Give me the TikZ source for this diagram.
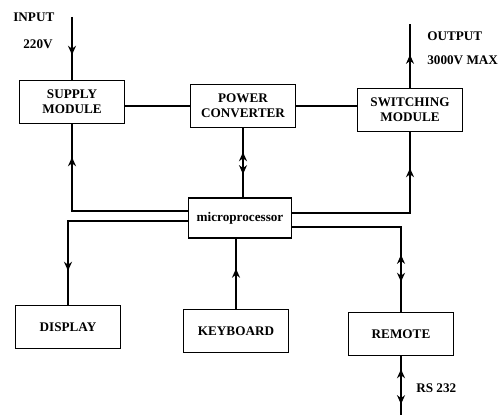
\documentclass[tikz,border=0pt]{standalone}
\usepackage{fontspec}
\setmainfont{Liberation Serif}
\usetikzlibrary{arrows.meta,decorations.markings}

\begin{document}
\begin{tikzpicture}[
                x=0.02cm, y=-0.02cm,
                >={Stealth[length=1.8mm,width=1.6mm]},
                every node/.style = {font=\fontsize{7.5}{8.5}\selectfont\bfseries},
                blockbox/.style = {rectangle, draw, line width=0.8pt, align=center, minimum width=2.1cm, minimum height=0.86cm},
                tag/.style = {anchor=west, inner sep=0pt},
                wire/.style = {line width=1.1pt},
                tipat/.style = {postaction={decorate, decoration={markings, mark=at position #1 with {\arrow{>}}}}},
                twoway/.style 2 args = {postaction={decorate, decoration={markings, mark=at position #1 with {\arrow{<}}, mark=at position #2 with {\arrow{>}}}}}
        ]
        \useasboundingbox (0,0) rectangle (500,415);

        % blocks
        \node[blockbox] (supply) at (72,102) {SUPPLY\\MODULE};
        \node[blockbox] (power) at (243,106) {POWER\\CONVERTER};
        \node[blockbox] (switching) at (410,110) {SWITCHING\\MODULE};
        \node[blockbox, minimum width=2.06cm, minimum height=0.8cm] (micro) at (240,218) {microprocessor};
        \node[blockbox] (display) at (68,327) {DISPLAY};
        \node[blockbox] (keyboard) at (236,331) {KEYBOARD};
        \node[blockbox] (remote) at (401,334) {REMOTE};

        % labels
        \node[tag] (inlabel) at (13,17) {INPUT};
        \node[tag] (involt) at (23,44) {220V};
        \node[tag] (outlabel) at (427,36) {OUTPUT};
        \node[tag] (outvolt) at (427,60) {3000V MAX};
        \node[tag] (rslabel) at (416,388) {RS 232};

        % free ends and taps
        \coordinate (infeed) at ([yshift=1.26cm]supply.north);
        \coordinate (outfeed) at ([yshift=1.28cm]switching.north);
        \coordinate (rsend) at ([yshift=-1.2cm]remote.south);
        \coordinate (mwu) at ([yshift=0.14cm]micro.west);
        \coordinate (mwd) at ([yshift=-0.06cm]micro.west);
        \coordinate (meu) at ([yshift=0.1cm]micro.east);
        \coordinate (med) at ([yshift=-0.18cm]micro.east);

        % connections
        \draw[wire, tipat=-0.5cm] (infeed) -- (supply.north);
        \draw[wire, tipat=-0.62cm] (switching.north) -- (outfeed);
        \draw[wire] (power.west -| supply.east) -- (power.west);
        \draw[wire] (power.east) -- (power.east -| switching.west);
        \draw[wire, twoway={0.66cm}{0.92cm}] (power.south) -- (power.south |- micro.north);
        \draw[wire, tipat=-0.66cm] (mwu) -| (supply.south);
        \draw[wire, tipat=-0.72cm] (meu) -| (switching.south);
        \draw[wire, tipat=-0.68cm] (mwd) -| (display.north);
        \draw[wire, tipat=-0.6cm] (keyboard.north) -- (keyboard.north |- micro.south);
        \draw[wire, twoway={-0.96cm}{-0.6cm}] (med) -| (remote.north);
        \draw[wire, twoway={0.44cm}{0.96cm}] (remote.south) -- (rsend);
\end{tikzpicture}
\end{document}
